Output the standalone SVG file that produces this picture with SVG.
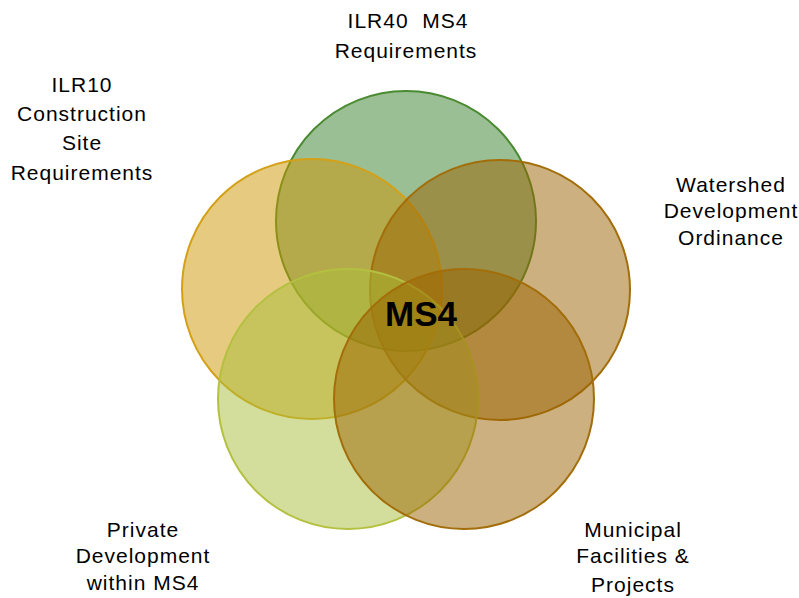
<svg xmlns="http://www.w3.org/2000/svg" width="799" height="598" viewBox="0 0 799 598">
<style>
.c{fill-opacity:0.5;stroke-width:2}
.t{font-family:"Liberation Sans",Arial,sans-serif;font-size:21px;letter-spacing:1px;fill:#000;text-anchor:middle}
.m{font-family:"Liberation Sans",Arial,sans-serif;font-size:35px;font-weight:bold;fill:#000;text-anchor:middle}
</style>
<rect width="799" height="598" fill="#fff"/>
<g id="circle-ilr40"><circle class="c" cx="406" cy="221" r="130" fill="#377f29" stroke="#4a8a30"/></g>
<g id="circle-ilr10"><circle class="c" cx="312" cy="289" r="130" fill="#cd9501" stroke="#d4a017"/></g>
<g id="circle-watershed"><circle class="c" cx="500" cy="290" r="130" fill="#996100" stroke="#a36e0a"/></g>
<g id="circle-private"><circle class="c" cx="348" cy="399" r="130" fill="#a9bd39" stroke="#b4c040"/></g>
<g id="circle-municipal"><circle class="c" cx="464" cy="399" r="130" fill="#996100" stroke="#a36e0a"/></g>
<g id="center"><text class="m" x="421" y="326">MS4</text></g>
<g id="label-ilr40"><text class="t" x="408" y="28">ILR40&#160; MS4</text><text class="t" x="406" y="58">Requirements</text></g>
<g id="label-ilr10"><text class="t" x="82" y="92">ILR10</text><text class="t" x="82" y="121">Construction</text><text class="t" x="82" y="150">Site</text><text class="t" x="82" y="180">Requirements</text></g>
<g id="label-watershed"><text class="t" x="731" y="192">Watershed</text><text class="t" x="731" y="218">Development</text><text class="t" x="731" y="245">Ordinance</text></g>
<g id="label-private"><text class="t" x="143" y="537">Private</text><text class="t" x="143" y="563">Development</text><text class="t" x="143" y="590">within MS4</text></g>
<g id="label-municipal"><text class="t" x="633" y="537">Municipal</text><text class="t" x="633" y="563">Facilities &amp;</text><text class="t" x="633" y="592">Projects</text></g>
<g id="connectors"></g>
</svg>
